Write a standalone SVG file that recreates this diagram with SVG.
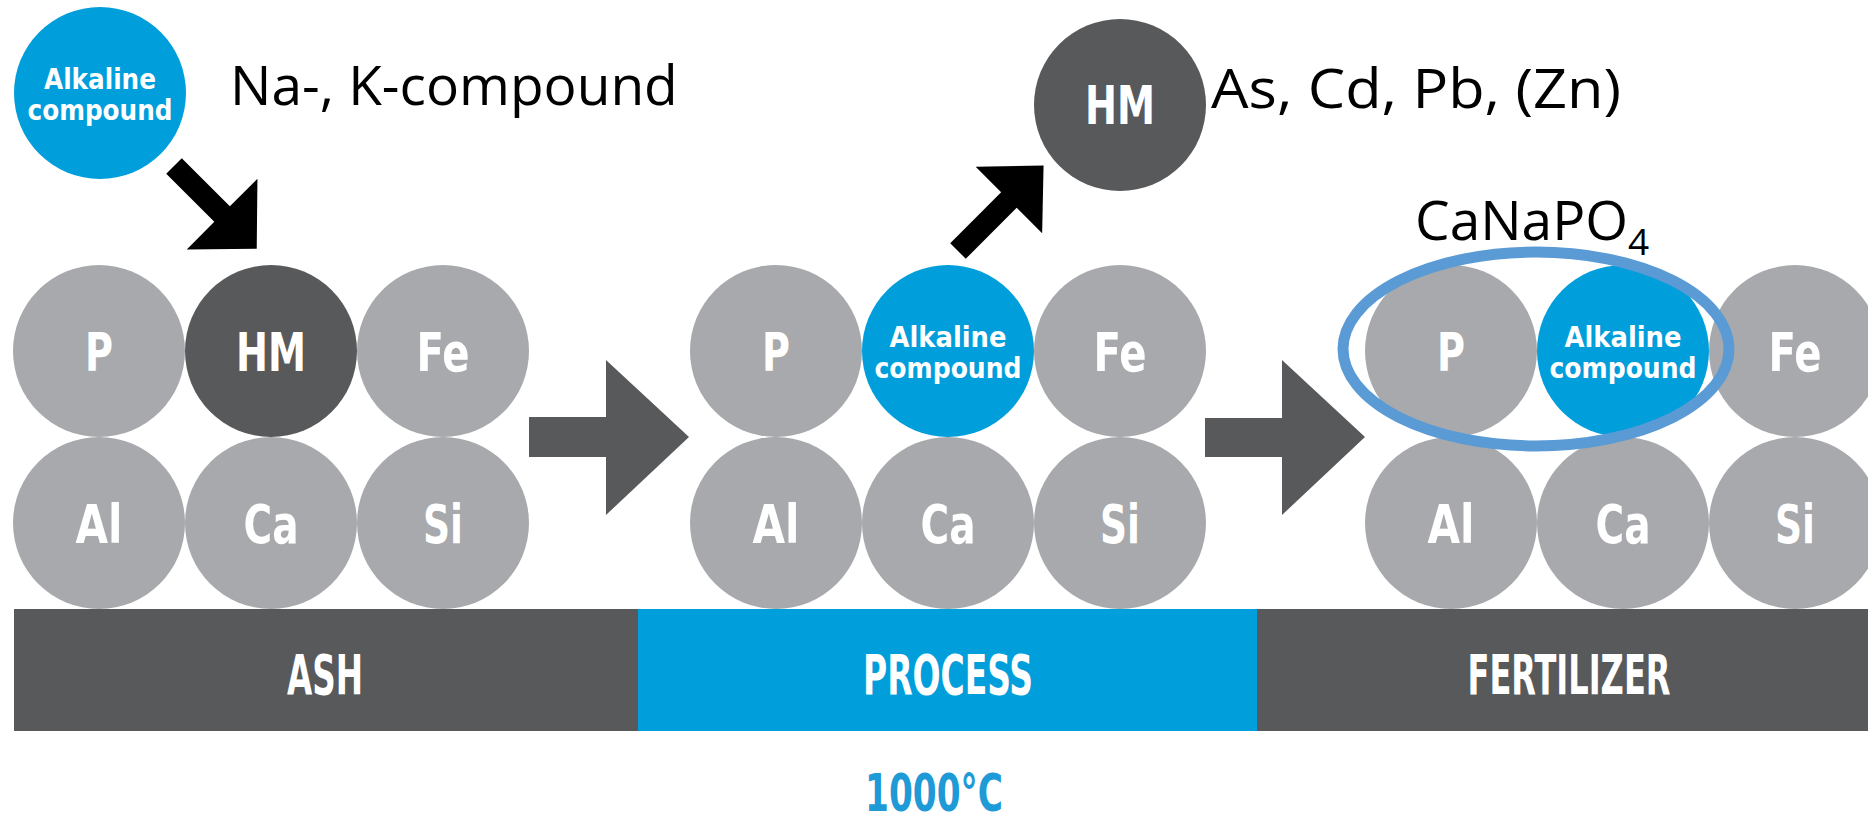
<svg xmlns="http://www.w3.org/2000/svg" width="1868" height="824" viewBox="0 0 1868 824">
<style>
.g{fill:#A7A9AC}
.d{fill:#58595B}
.b{fill:#009EDB}
.k{fill:#000}
.lbl{font-family:"DejaVu Sans Condensed","DejaVu Sans",sans-serif;font-stretch:condensed;font-weight:bold;fill:#fff;text-anchor:middle}
.big{font-size:54px}
.sm{font-size:28px}
.bar{font-size:56px}
.note{font-family:"Open Sans","Noto Sans",sans-serif;font-size:55px;fill:#000}
.temp{font-family:"DejaVu Sans Condensed","DejaVu Sans",sans-serif;font-stretch:condensed;font-weight:bold;font-size:52px;fill:#1E9AD6;text-anchor:middle}
</style>
<rect width="1868" height="824" fill="#fff"/>

<g id="top-alkaline">
<circle cx="100" cy="93" r="86" class="b"/>
<text class="lbl sm" x="100" y="89" textLength="112" lengthAdjust="spacingAndGlyphs">Alkaline</text>
<text class="lbl sm" x="100" y="120" textLength="145" lengthAdjust="spacingAndGlyphs">compound</text>
</g>
<text class="note" x="230" y="105">Na-, K-compound</text>

<g id="top-hm">
<circle cx="1120" cy="105" r="86" class="d"/>
<text class="lbl big" x="1120" y="124" textLength="70" lengthAdjust="spacingAndGlyphs">HM</text>
</g>
<text class="note" x="1211" y="108" textLength="410" lengthAdjust="spacingAndGlyphs">As, Cd, Pb, (Zn)</text>

<text class="note" x="1415" y="240" font-size="54">CaNaPO<tspan font-size="37" dy="15">4</tspan></text>

<!-- Section 1: ASH -->
<g id="ash-p"><circle cx="99" cy="351" r="86" class="g"/><text class="lbl big" x="99" y="371" textLength="28" lengthAdjust="spacingAndGlyphs">P</text></g>
<g id="ash-hm"><circle cx="271" cy="351" r="86" class="d"/><text class="lbl big" x="271" y="371" textLength="70" lengthAdjust="spacingAndGlyphs">HM</text></g>
<g id="ash-fe"><circle cx="443" cy="351" r="86" class="g"/><text class="lbl big" x="443" y="371" textLength="53" lengthAdjust="spacingAndGlyphs">Fe</text></g>
<g id="ash-al"><circle cx="99" cy="523" r="86" class="g"/><text class="lbl big" x="99" y="543" textLength="47" lengthAdjust="spacingAndGlyphs">Al</text></g>
<g id="ash-ca"><circle cx="271" cy="523" r="86" class="g"/><text class="lbl big" x="271" y="543" textLength="55" lengthAdjust="spacingAndGlyphs">Ca</text></g>
<g id="ash-si"><circle cx="443" cy="523" r="86" class="g"/><text class="lbl big" x="443" y="543" textLength="40" lengthAdjust="spacingAndGlyphs">Si</text></g>

<!-- Section 2: PROCESS -->
<g id="proc-p"><circle cx="776" cy="351" r="86" class="g"/><text class="lbl big" x="776" y="371" textLength="28" lengthAdjust="spacingAndGlyphs">P</text></g>
<g id="proc-alk"><circle cx="948" cy="351" r="86" class="b"/><text class="lbl sm" x="948" y="347" textLength="117" lengthAdjust="spacingAndGlyphs">Alkaline</text><text class="lbl sm" x="948" y="378" textLength="147" lengthAdjust="spacingAndGlyphs">compound</text></g>
<g id="proc-fe"><circle cx="1120" cy="351" r="86" class="g"/><text class="lbl big" x="1120" y="371" textLength="53" lengthAdjust="spacingAndGlyphs">Fe</text></g>
<g id="proc-al"><circle cx="776" cy="523" r="86" class="g"/><text class="lbl big" x="776" y="543" textLength="47" lengthAdjust="spacingAndGlyphs">Al</text></g>
<g id="proc-ca"><circle cx="948" cy="523" r="86" class="g"/><text class="lbl big" x="948" y="543" textLength="55" lengthAdjust="spacingAndGlyphs">Ca</text></g>
<g id="proc-si"><circle cx="1120" cy="523" r="86" class="g"/><text class="lbl big" x="1120" y="543" textLength="40" lengthAdjust="spacingAndGlyphs">Si</text></g>

<!-- Section 3: FERTILIZER -->
<g id="fert-p"><circle cx="1451" cy="351" r="86" class="g"/><text class="lbl big" x="1451" y="371" textLength="28" lengthAdjust="spacingAndGlyphs">P</text></g>
<g id="fert-alk"><circle cx="1623" cy="351" r="86" class="b"/><text class="lbl sm" x="1623" y="347" textLength="117" lengthAdjust="spacingAndGlyphs">Alkaline</text><text class="lbl sm" x="1623" y="378" textLength="147" lengthAdjust="spacingAndGlyphs">compound</text></g>
<g id="fert-fe"><circle cx="1795" cy="351" r="86" class="g"/><text class="lbl big" x="1795" y="371" textLength="53" lengthAdjust="spacingAndGlyphs">Fe</text></g>
<g id="fert-al"><circle cx="1451" cy="523" r="86" class="g"/><text class="lbl big" x="1451" y="543" textLength="47" lengthAdjust="spacingAndGlyphs">Al</text></g>
<g id="fert-ca"><circle cx="1623" cy="523" r="86" class="g"/><text class="lbl big" x="1623" y="543" textLength="55" lengthAdjust="spacingAndGlyphs">Ca</text></g>
<g id="fert-si"><circle cx="1795" cy="523" r="86" class="g"/><text class="lbl big" x="1795" y="543" textLength="40" lengthAdjust="spacingAndGlyphs">Si</text></g>

<g id="canapo4-ring">
<ellipse cx="1536" cy="349" rx="193" ry="97" fill="none" stroke="#5B9BD5" stroke-width="11"/>
</g>

<g id="bar">
<rect x="14" y="609" width="624" height="122" class="d"/>
<rect x="638" y="609" width="619" height="122" class="b"/>
<rect x="1257" y="609" width="611" height="122" class="d"/>
<text class="lbl bar" x="325" y="694" textLength="76" lengthAdjust="spacingAndGlyphs">ASH</text>
<text class="lbl bar" x="948" y="694" textLength="170" lengthAdjust="spacingAndGlyphs">PROCESS</text>
<text class="lbl bar" x="1569" y="694" textLength="203" lengthAdjust="spacingAndGlyphs">FERTILIZER</text>
</g>

<text class="temp" x="934" y="811" textLength="138" lengthAdjust="spacingAndGlyphs">1000°C</text>

<g id="connectors">
<polygon class="k" transform="translate(174,166) rotate(45)" points="0,-11 68,-11 68,-50 117,0 68,50 68,11 0,11"/>
<polygon class="k" transform="translate(958,251) rotate(-45)" points="0,-11 72,-11 72,-47 121,0 72,47 72,11 0,11"/>
<polygon class="d" points="529,417 606,417 606,360 689,437 606,515 606,457 529,457"/>
<polygon class="d" points="1205,418 1282,418 1282,360 1365,437 1282,515 1282,457 1205,457"/>
</g>
</svg>
